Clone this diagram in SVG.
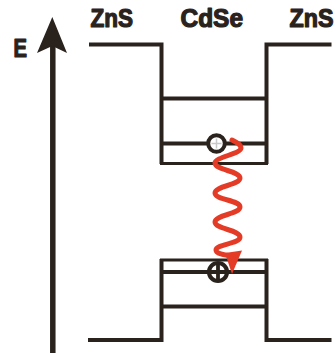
<svg xmlns="http://www.w3.org/2000/svg" width="336" height="353" viewBox="0 0 336 353">
<style>
.lbl{font-family:"Liberation Sans",Arial,sans-serif;font-weight:700;font-size:25px;fill:#2a231d;stroke:#2a231d;stroke-width:1.2;stroke-linejoin:round}
.band{stroke:#2a231d;fill:none;stroke-linecap:butt}
.w4{stroke-width:4}
.w3{stroke-width:3}
</style>
<rect width="336" height="353" fill="#ffffff"/>
<g id="axis">
<line x1="52.8" y1="44" x2="52.8" y2="353" stroke="#2a231d" stroke-width="5.5"/>
<path d="M52.3 17 L67 53 L52.3 46 L37 53 Z" fill="#2a231d"/>
<text class="lbl" x="13.5" y="56.5" textLength="13.5" lengthAdjust="spacingAndGlyphs">E</text>
</g>
<g id="zns-left">
<text class="lbl" x="90.5" y="26.5" textLength="42.5" lengthAdjust="spacingAndGlyphs">ZnS</text>
</g>
<g id="cdse">
<text class="lbl" x="180.5" y="26.5" textLength="62.5" lengthAdjust="spacingAndGlyphs">CdSe</text>
</g>
<g id="zns-right">
<text class="lbl" x="289.5" y="26.5" textLength="44" lengthAdjust="spacingAndGlyphs">ZnS</text>
</g>
<g id="bands">
<path class="band w4" d="M89 44.5 H161.5 V164 M331.5 44.5 H266.5 V164"/>
<line class="band w4" x1="161.5" y1="98.5" x2="266.5" y2="98.5"/>
<line class="band w4" x1="161.5" y1="143.5" x2="266.5" y2="143.5"/>
<line class="band w3" x1="160" y1="163.5" x2="268" y2="163.5"/>
<path class="band w4" d="M88 340 H161.5 V259 M331.5 340 H266.5 V259"/>
<line class="band w3" x1="160" y1="260" x2="268" y2="260"/>
<line class="band w4" x1="161.5" y1="272" x2="266.5" y2="272"/>
<line class="band w4" x1="161.5" y1="306.5" x2="266.5" y2="306.5"/>
</g>
<g id="electron">
<circle cx="216.5" cy="143.5" r="8.3" fill="#ffffff" stroke="#2a231d" stroke-width="4"/>
<path d="M211.5 143.5 H221.5 M216.5 138.5 V148.5" stroke="#c8c8c8" stroke-width="1.5"/>
</g>
<g id="hole">
<circle cx="218" cy="272" r="9" fill="#ffffff" stroke="#2a231d" stroke-width="4.2"/>
<path d="M210 272 H226 M218 264 V280" stroke="#2a231d" stroke-width="3.8"/>
</g>
<g id="connectors">
<path d="M232 140 C238 143 241 145 241 148 C241 154 215 157 215 163 C215 170 240 171 240 178 C240 185 215 186 215 193 C215 200 240 200 240 207 C240 214 215 215 215 222 C215 229 240 230 240 237 C240 244 216 244 216 250 C216 254 225 255 232 256" fill="none" stroke="#e43b27" stroke-width="5" stroke-linecap="round"/>
<path d="M225 253 L242 250.5 L232 274 Z" fill="#e43b27"/>
</g>
</svg>
